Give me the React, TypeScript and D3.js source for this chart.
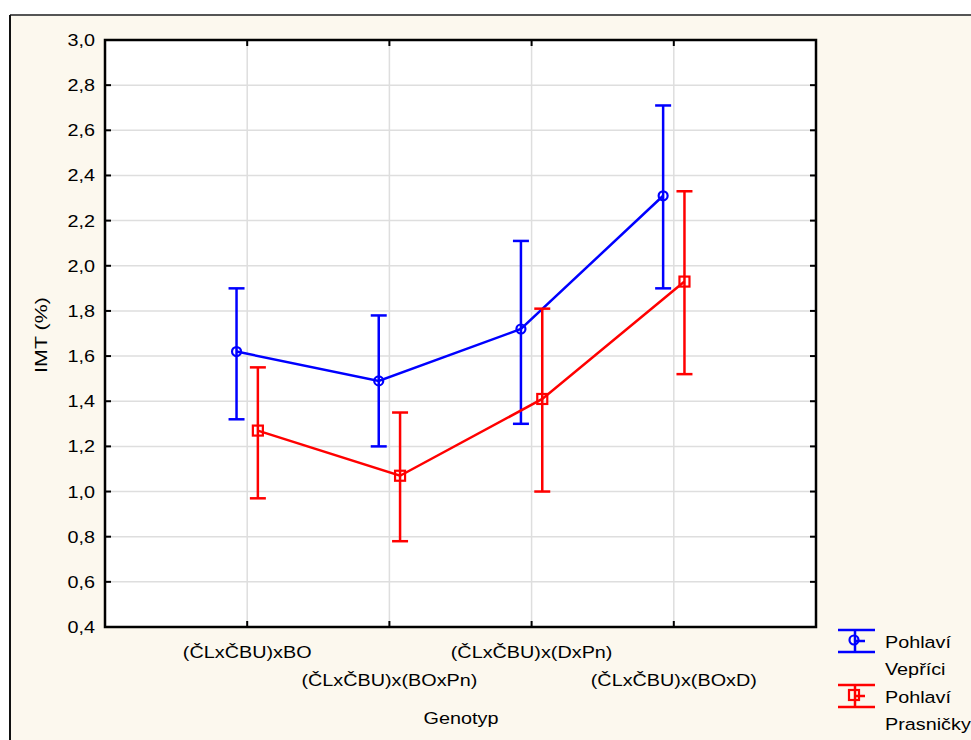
import * as d3 from "d3";

const genotypes = ["(ČLxČBU)xBO", "(ČLxČBU)x(BOxPn)", "(ČLxČBU)x(DxPn)", "(ČLxČBU)x(BOxD)"];
const vepriciMean = [1.62, 1.49, 1.72, 2.31];
const vepriciLow = [1.32, 1.2, 1.3, 1.9];
const vepriciHigh = [1.9, 1.78, 2.11, 2.71];
const prasnickyMean = [1.27, 1.07, 1.41, 1.93];
const prasnickyLow = [0.97, 0.78, 1.0, 1.52];
const prasnickyHigh = [1.55, 1.35, 1.81, 2.33];
const yTicks = [0.4, 0.6, 0.8, 1.0, 1.2, 1.4, 1.6, 1.8, 2.0, 2.2, 2.4, 2.6, 2.8, 3.0];

const W = 971;
const H = 740;
const left = 105, right = 816, top = 40, bottom = 627;
const FONT = "'Liberation Sans', Arial, sans-serif";
const SX = 1.2; // glyphs in the original are drawn wide

const x = d3.scaleLinear().domain([0, genotypes.length + 1]).range([left, right]);
const y = d3.scaleLinear().domain([0.4, 3.0]).range([bottom, top]);
const fmt = (v: number) => d3.format(".1f")(v).replace(".", ",");

const series = [
  { name: "Vepříci", color: "#0000ff", mean: vepriciMean, low: vepriciLow, high: vepriciHigh, dx: -0.075, marker: "circle" },
  { name: "Prasničky", color: "#ff0000", mean: prasnickyMean, low: prasnickyLow, high: prasnickyHigh, dx: 0.075, marker: "square" },
];

const Txt = ({ x, y, anchor = "start", rotate = 0, children }: any) => (
  <g transform={`translate(${x},${y}) rotate(${rotate}) scale(${SX},1)`}>
    <text textAnchor={anchor} fontFamily={FONT} fontSize={16.5} fill="#000">{children}</text>
  </g>
);

const Marker = ({ cx, cy, type, color }: any) =>
  type === "circle" ? (
    <circle cx={cx} cy={cy} r={4.5} fill="none" stroke={color} strokeWidth={2.2} />
  ) : (
    <rect x={cx - 5} y={cy - 5} width={10} height={10} fill="none" stroke={color} strokeWidth={2.2} />
  );

export default function App() {
  const line = d3.line<number>();
  return (
    <svg width={W} height={H} style={{ position: "fixed", left: 0, top: 0, background: "#fff" }}>
      <rect x={10} y={15} width={W} height={H} fill="#fcf8ee" />
      <line x1={10} x2={W} y1={15} y2={15} stroke="#555" strokeWidth={2} />
      <line x1={10} x2={10} y1={15} y2={H} stroke="#111" strokeWidth={2} />

      <rect x={left} y={top} width={right - left} height={bottom - top} fill="#fff" />
      {/* grid */}
      {yTicks.map((t) => (
        <line key={"gy" + t} x1={left} x2={right} y1={y(t)} y2={y(t)} stroke="#dedede" strokeWidth={1.5} />
      ))}
      {genotypes.map((g, i) => (
        <line key={"gx" + g} x1={x(i + 1)} x2={x(i + 1)} y1={top} y2={bottom} stroke="#dedede" strokeWidth={1.5} />
      ))}
      {/* ticks, inward on all sides */}
      {yTicks.map((t) => (
        <g key={"ty" + t}>
          <line x1={left} x2={left + 6} y1={y(t)} y2={y(t)} stroke="#000" strokeWidth={2} />
          <line x1={right - 6} x2={right} y1={y(t)} y2={y(t)} stroke="#000" strokeWidth={2} />
          <Txt x={95} y={y(t) + 6} anchor="end">{fmt(t)}</Txt>
        </g>
      ))}
      {genotypes.map((g, i) => (
        <g key={"tx" + g}>
          <line x1={x(i + 1)} x2={x(i + 1)} y1={bottom - 6} y2={bottom} stroke="#000" strokeWidth={2} />
          <line x1={x(i + 1)} x2={x(i + 1)} y1={top} y2={top + 6} stroke="#000" strokeWidth={2} />
          <Txt x={x(i + 1)} y={i % 2 === 0 ? 658 : 686} anchor="middle">{g}</Txt>
        </g>
      ))}
      <rect x={left} y={top} width={right - left} height={bottom - top} fill="none" stroke="#000" strokeWidth={2.5} />

      {/* series */}
      {series.map((s) => {
        const pts = s.mean.map((m, i) => [x(i + 1 + s.dx), y(m)] as [number, number]);
        return (
          <g key={s.name}>
            <path d={line(pts) || ""} fill="none" stroke={s.color} strokeWidth={2.5} />
            {s.mean.map((m, i) => {
              const cx = x(i + 1 + s.dx);
              return (
                <g key={i} stroke={s.color} strokeWidth={2.5}>
                  <line x1={cx} x2={cx} y1={y(s.low[i])} y2={y(s.high[i])} />
                  <line x1={cx - 8} x2={cx + 8} y1={y(s.low[i])} y2={y(s.low[i])} />
                  <line x1={cx - 8} x2={cx + 8} y1={y(s.high[i])} y2={y(s.high[i])} />
                  <Marker cx={cx} cy={y(m)} type={s.marker} color={s.color} />
                </g>
              );
            })}
          </g>
        );
      })}

      {/* axis titles */}
      <Txt x={461} y={724} anchor="middle">Genotyp</Txt>
      <g transform="translate(47,335) rotate(-90) scale(1.3,1)">
        <text textAnchor="middle" fontFamily={FONT} fontSize={16.5} fill="#000">IMT (%)</text>
      </g>

      {/* legend */}
      {series.map((s, k) => {
        const y0 = 630 + k * 55;
        const cx = 855;
        return (
          <g key={"lg" + s.name}>
            <g stroke={s.color} strokeWidth={2.5}>
              <line x1={838} x2={875} y1={y0} y2={y0} />
              <line x1={838} x2={875} y1={y0 + 22} y2={y0 + 22} />
              <line x1={cx} x2={cx} y1={y0} y2={y0 + 22} />
              <line x1={cx} x2={cx + 10} y1={y0 + 11} y2={y0 + 11} />
            </g>
            <Marker cx={cx - 1} cy={y0 + 10} type={s.marker} color={s.color} />
            <Txt x={885} y={y0 + 18}>Pohlaví</Txt>
            <Txt x={885} y={y0 + 45}>{s.name}</Txt>
          </g>
        );
      })}
    </svg>
  );
}
